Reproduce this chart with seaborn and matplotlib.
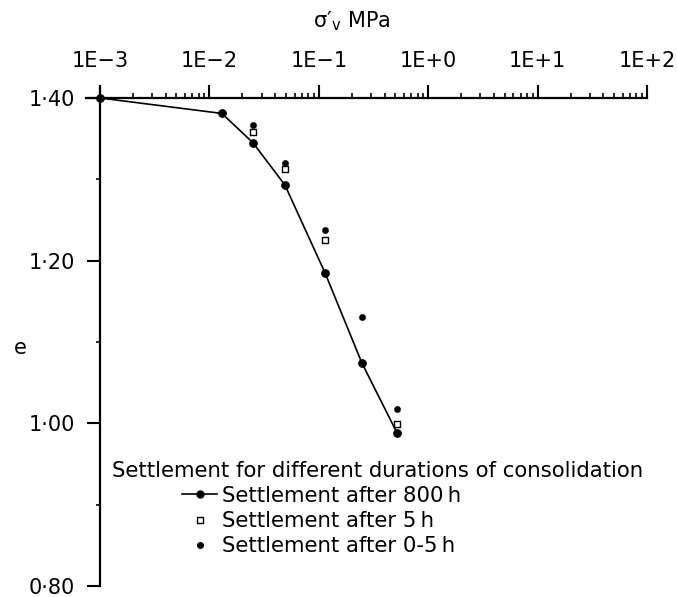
import numpy as np
import matplotlib
matplotlib.use("Agg")
import matplotlib.pyplot as plt
import seaborn as sns
from matplotlib.ticker import FixedLocator, NullFormatter
from matplotlib.lines import Line2D

# ---- data ----
stress_800 = [0.001, 0.013, 0.025, 0.049, 0.114, 0.248, 0.52]
e_800 = [1.400, 1.381, 1.345, 1.293, 1.185, 1.074, 0.988]

stress_5 = [0.025, 0.049, 0.114, 0.52]
e_5 = [1.358, 1.313, 1.225, 0.999]

stress_05 = [0.025, 0.049, 0.114, 0.248, 0.52]
e_05 = [1.367, 1.320, 1.238, 1.131, 1.017]

x_tick_values = [1e-3, 1e-2, 1e-1, 1e0, 1e1, 1e2]
x_tick_labels = ["1E\u22123", "1E\u22122", "1E\u22121", "1E+0", "1E+1", "1E+2"]
y_tick_values = [0.80, 1.00, 1.20, 1.40]
y_tick_labels = ["0\u00b780", "1\u00b700", "1\u00b720", "1\u00b740"]
y_minor_values = [0.90, 1.10, 1.30]

legend_title = "Settlement for different durations of consolidation"
legend_labels = ["Settlement after 800\u2009h", "Settlement after 5\u2009h", "Settlement after 0-5\u2009h"]

plt.rcParams["font.family"] = ["DejaVu Sans"]

W, H = 677, 597
fig = plt.figure(figsize=(W / 100, H / 100), dpi=100)
ax = fig.add_axes([86 / W, 1 - 586 / H, 561 / W, (586 - 87) / H])

sns.lineplot(x=stress_800, y=e_800, ax=ax, color="black", lw=1.2, marker="o",
             markersize=5.5, markeredgecolor="black", sort=False, estimator=None)
sns.scatterplot(x=stress_5, y=e_5, ax=ax, marker="s", s=22, facecolor="white",
                edgecolor="black", linewidth=1.0, zorder=3)
sns.scatterplot(x=stress_05, y=e_05, ax=ax, marker="o", s=20, color="black",
                edgecolor="black", zorder=3)

ax.set_xscale("log")
ax.set_xlim(10 ** -3.128, 1e2)
ax.set_ylim(0.80, 1.4135)
ax.set_xlabel("")
ax.set_ylabel("")

for s in ("right", "bottom"):
    ax.spines[s].set_visible(False)
ax.spines["top"].set_position(("data", 1.40))
ax.spines["left"].set_position(("data", 1e-3))
for s in ("top", "left"):
    ax.spines[s].set_linewidth(1.6)

ax.xaxis.tick_top()
ax.set_xticks(x_tick_values)
ax.set_xticklabels(x_tick_labels)
minor_x = [m * 10.0 ** k for k in range(-3, 2) for m in range(2, 10)]
ax.xaxis.set_minor_locator(FixedLocator(minor_x))
ax.xaxis.set_minor_formatter(NullFormatter())
ax.tick_params(axis="x", which="major", direction="out", length=9.4, width=1.5,
               pad=10, labelsize=15)
ax.tick_params(axis="x", which="minor", direction="out", length=3.6, width=1.2)

ax.set_yticks(y_tick_values)
ax.set_yticklabels(y_tick_labels)
ax.yaxis.set_minor_locator(FixedLocator(y_minor_values))
ax.tick_params(axis="y", which="major", direction="out", length=9.4, width=1.5,
               pad=8.6, labelsize=15)
ax.tick_params(axis="y", which="minor", direction="out", length=3.0, width=1.2)

fig.text(352 / W, 1 - 21 / H, "\u03c3\u2032$_{\\mathregular{v}}$ MPa", ha="center", va="center", fontsize=15)
fig.text(20 / W, 1 - 348 / H, "e", ha="center", va="center", fontsize=15)

fig.text(112 / W, 1 - 471 / H, legend_title, ha="left", va="center", fontsize=15.3)
handles = [
    Line2D([], [], color="black", lw=1.2, marker="o", markersize=5),
    Line2D([], [], ls="none", marker="s", mfc="white", mec="black", mew=1.0, markersize=4.5),
    Line2D([], [], ls="none", marker="o", color="black", markersize=4),
]
fig.legend(handles, legend_labels, loc="center left", bbox_to_anchor=(182 / W, 1 - 521 / H),
           frameon=False, borderpad=0, borderaxespad=0, handlelength=1.65,
           handletextpad=0.24, labelspacing=0.25, fontsize=15.3)

fig.savefig("out.png", dpi=100)
